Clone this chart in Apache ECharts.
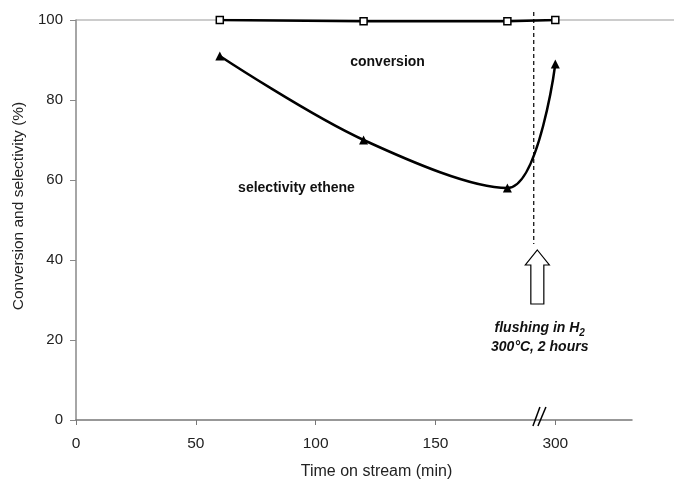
<!DOCTYPE html>
<html>
<head>
<meta charset="utf-8">
<script src="https://cdn.jsdelivr.net/npm/echarts@6/dist/echarts.min.js"></script>
<style>
  html, body { margin: 0; padding: 0; background: #fff; }
  #chart { width: 674px; height: 485px; }
</style>
</head>
<body>
<div id="chart"></div>
<script>
// time on stream (min); the axis is broken between 250 and 300
const timeMin = [60, 120, 180, 300]
const conversion = [100, 99.7, 99.7, 100]
const selectivity = [91, 70, 58, 89]
const xTicks = [0, 50, 100, 150, 300]
const yTicks = [0, 20, 40, 60, 80, 100]

// broken axis: everything past the break is shifted left by 100 min
const BREAK_SHIFT = 100
const toAxis = (t) => (t > 250 ? t - BREAK_SHIFT : t)
const fromAxis = (v) => (v > 190 ? v + BREAK_SHIFT : v)

const FLUSH_AT = 191 // axis position of the flushing event
const BREAK_AT = 194

const font = '"Liberation Sans", Arial, sans-serif'
const chartEl = document.getElementById('chart')
const chart = echarts.init(chartEl)

chart.setOption({
  animation: false,
  grid: { left: 76, right: 42, top: 20, bottom: 57 },
  xAxis: {
    type: 'value',
    min: 0,
    max: 232,
    interval: 50,
    name: 'Time on stream (min)',
    nameLocation: 'middle',
    nameGap: 44,
    nameTextStyle: { color: '#222', fontSize: 16, fontFamily: font, padding: [0, 0, 0, 45] },
    axisLine: { lineStyle: { color: '#777', width: 1.5 } },
    axisTick: { length: 5, lineStyle: { color: '#777' }, customValues: xTicks.map(toAxis) },
    axisLabel: {
      color: '#222',
      fontSize: 15.5,
      fontFamily: font,
      margin: 16,
      customValues: xTicks.map(toAxis),
      formatter: (v) => String(fromAxis(v)),
    },
    splitLine: { show: false },
  },
  yAxis: {
    type: 'value',
    min: 0,
    max: 100,
    interval: 20,
    name: 'Conversion and selectivity (%)',
    nameLocation: 'middle',
    nameGap: 48,
    nameTextStyle: { color: '#222', fontSize: 15.5, fontFamily: font, padding: [0, 0, 0, 28] },
    axisLine: { show: true, lineStyle: { color: '#888', width: 1.5 } },
    axisTick: { show: true, length: 6, lineStyle: { color: '#888' }, customValues: yTicks },
    axisLabel: { color: '#222', fontSize: 15, fontFamily: font, margin: 13, customValues: yTicks },
    splitLine: { show: false },
  },
  series: [
    {
      name: 'conversion',
      type: 'line',
      data: timeMin.map((t, i) => [toAxis(t), conversion[i]]),
      symbol: 'rect',
      symbolSize: 7,
      itemStyle: { color: '#fff', borderColor: '#000', borderWidth: 1.5 },
      lineStyle: { color: '#000', width: 2.5 },
      z: 3,
    },
    {
      name: 'selectivity ethene',
      type: 'line',
      smooth: 0.35,
      data: timeMin.map((t, i) => [toAxis(t), selectivity[i]]),
      symbol: 'triangle',
      symbolSize: 9,
      itemStyle: { color: '#000' },
      lineStyle: { color: '#000', width: 2.5 },
      z: 3,
    },
  ],
})

const px = (x, y) => chart.convertToPixel({ gridIndex: 0 }, [x, y])

function drawAnnotations() {
  const top = px(0, 100)
  const flushTop = px(FLUSH_AT, 102)
  const flushBottom = px(FLUSH_AT, 44)
  const arrowX = px(FLUSH_AT + 1.5, 0)[0]
  const arrowTip = px(0, 42.5)[1]
  const breakPos = px(BREAK_AT, 0)
  const convLabel = px(130, 89.5)
  const selLabel = px(92, 58)
  const noteX = px(FLUSH_AT + 2.5, 0)[0]
  const noteY = px(0, 20.5)[1]

  chart.setOption({
    graphic: [
      {
        type: 'line',
        shape: { x1: top[0], y1: top[1], x2: 674, y2: top[1] },
        style: { stroke: '#999', lineWidth: 1.2 },
        z: 1,
      },
      {
        type: 'line',
        shape: { x1: flushTop[0], y1: flushTop[1], x2: flushBottom[0], y2: flushBottom[1] },
        style: { stroke: '#000', lineWidth: 1.2, lineDash: [4, 3] },
        z: 2,
      },
      {
        type: 'polygon',
        shape: {
          points: [
            [arrowX, arrowTip],
            [arrowX + 12, arrowTip + 15],
            [arrowX + 6.5, arrowTip + 15],
            [arrowX + 6.5, arrowTip + 54],
            [arrowX - 6.5, arrowTip + 54],
            [arrowX - 6.5, arrowTip + 15],
            [arrowX - 12, arrowTip + 15],
          ],
        },
        style: { fill: '#fff', stroke: '#000', lineWidth: 1.2 },
        z: 2,
      },
      {
        type: 'line',
        shape: { x1: breakPos[0] - 8, y1: breakPos[1] + 6, x2: breakPos[0] - 1, y2: breakPos[1] - 13 },
        style: { stroke: '#000', lineWidth: 1.5 },
        z: 5,
      },
      {
        type: 'line',
        shape: { x1: breakPos[0] - 3, y1: breakPos[1] + 6, x2: breakPos[0] + 5, y2: breakPos[1] - 13 },
        style: { stroke: '#000', lineWidth: 1.5 },
        z: 5,
      },
      {
        type: 'text',
        x: convLabel[0],
        y: convLabel[1],
        style: {
          text: 'conversion',
          font: 'bold 14px ' + font,
          fill: '#111',
          align: 'center',
          verticalAlign: 'middle',
        },
      },
      {
        type: 'text',
        x: selLabel[0],
        y: selLabel[1],
        style: {
          text: 'selectivity ethene',
          font: 'bold 14px ' + font,
          fill: '#111',
          align: 'center',
          verticalAlign: 'middle',
        },
      },
      {
        type: 'text',
        x: noteX,
        y: noteY,
        style: {
          text: 'flushing in H{sub|2}\n300°C, 2 hours',
          font: 'italic bold 14px ' + font,
          fill: '#111',
          align: 'center',
          verticalAlign: 'middle',
          lineHeight: 19,
          rich: {
            sub: { font: 'italic bold 10px ' + font, fill: '#111', verticalAlign: 'bottom', padding: [6, 0, 0, 0] },
          },
        },
      },
    ],
  })
}

drawAnnotations()
</script>
</body>
</html>
